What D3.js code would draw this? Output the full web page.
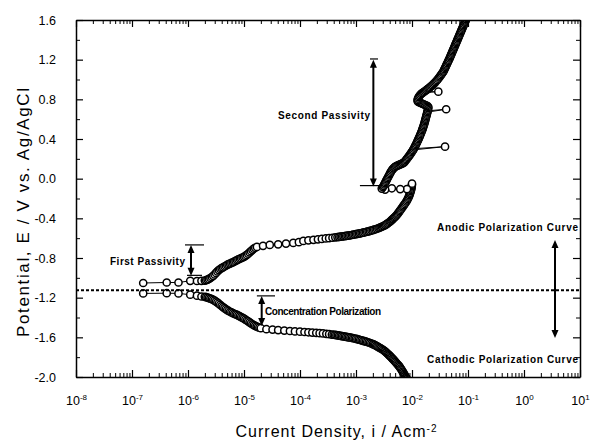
<!DOCTYPE html>
<html>
<head>
<meta charset="utf-8">
<script src="https://cdn.jsdelivr.net/npm/d3@7"></script>
<style>
    body { margin: 0; background: #fff; }
    svg { display: block; }
    text { font-family: "Liberation Sans", Arial, sans-serif; fill: #000; }
</style>
</head>
<body>
<svg id="chart"></svg>
<script>
// axis ticks
const xTickExponents = [-8, -7, -6, -5, -4, -3, -2, -1, 0, 1];
const yTickValues = [-2.0, -1.6, -1.2, -0.8, -0.4, 0.0, 0.4, 0.8, 1.2, 1.6];
const yMinorValues = [-1.8, -1.4, -1.0, -0.6, -0.2, 0.2, 0.6, 1.0, 1.4];

// corrosion potential (dotted line)
const eCorr = -1.125;

// [log10(i / A cm^-2), E / V]
const anodicPoints = [
    // near Ecorr
    [-6.80, -1.052], [-6.38, -1.047], [-6.17, -1.047], [-5.96, -1.030], [-5.84, -1.032],
    [-5.76, -1.030],
    // first passivity rise
    [-5.700, -1.028], [-5.675, -1.024], [-5.650, -1.018], [-5.625, -1.011], [-5.600, -1.002],
    [-5.575, -0.992], [-5.550, -0.980], [-5.525, -0.966], [-5.500, -0.950], [-5.475, -0.935],
    [-5.450, -0.922], [-5.425, -0.911], [-5.400, -0.902], [-5.375, -0.894], [-5.350, -0.886],
    [-5.325, -0.878], [-5.300, -0.869], [-5.275, -0.862], [-5.250, -0.856], [-5.225, -0.850],
    [-5.200, -0.844], [-5.175, -0.837], [-5.150, -0.829], [-5.125, -0.821], [-5.100, -0.814],
    [-5.075, -0.808], [-5.050, -0.802], [-5.025, -0.795], [-5.000, -0.788], [-4.975, -0.779],
    [-4.950, -0.769], [-4.925, -0.757], [-4.900, -0.744], [-4.875, -0.731], [-4.850, -0.718],
    [-4.825, -0.706], [-4.800, -0.697],
    // slow rise
    [-4.77, -0.688], [-4.66, -0.677], [-4.54, -0.668], [-4.39, -0.662], [-4.25, -0.655],
    [-4.12, -0.648], [-4.02, -0.640], [-3.94, -0.628], [-3.85, -0.622], [-3.76, -0.617],
    [-3.68, -0.612], [-3.61, -0.608], [-3.54, -0.603], [-3.48, -0.600], [-3.42, -0.596],
    [-3.37, -0.592], [-3.33, -0.589],
    // active dissolution
    [-3.300, -0.587], [-3.275, -0.585], [-3.250, -0.583], [-3.225, -0.581], [-3.200, -0.579],
    [-3.175, -0.577], [-3.150, -0.575], [-3.125, -0.573], [-3.100, -0.571], [-3.075, -0.568],
    [-3.050, -0.565], [-3.025, -0.563], [-3.000, -0.560], [-2.975, -0.557], [-2.950, -0.554],
    [-2.925, -0.551], [-2.900, -0.548], [-2.875, -0.545], [-2.850, -0.542], [-2.825, -0.538],
    [-2.800, -0.535], [-2.775, -0.531], [-2.750, -0.527], [-2.725, -0.523], [-2.700, -0.519],
    [-2.675, -0.514], [-2.650, -0.510], [-2.625, -0.505], [-2.600, -0.500], [-2.580, -0.495],
    [-2.560, -0.490], [-2.540, -0.485], [-2.520, -0.480], [-2.500, -0.475], [-2.480, -0.468],
    [-2.460, -0.461], [-2.440, -0.453], [-2.420, -0.445], [-2.400, -0.437], [-2.385, -0.429],
    [-2.370, -0.421], [-2.355, -0.413], [-2.340, -0.405], [-2.325, -0.397], [-2.310, -0.389],
    [-2.295, -0.381], [-2.280, -0.371], [-2.265, -0.361], [-2.250, -0.350], [-2.235, -0.339],
    [-2.220, -0.327], [-2.205, -0.315], [-2.190, -0.303], [-2.175, -0.291], [-2.160, -0.279],
    [-2.145, -0.267], [-2.130, -0.255], [-2.115, -0.243], [-2.100, -0.230], [-2.088, -0.218],
    [-2.076, -0.205], [-2.065, -0.192], [-2.055, -0.179], [-2.046, -0.166], [-2.038, -0.153],
    [-2.030, -0.140], [-2.023, -0.127], [-2.017, -0.114], [-2.012, -0.101], [-2.008, -0.088],
    [-2.004, -0.075], [-2.001, -0.062], [-2.000, -0.050],
    // current drop
    [-2.09, -0.105], [-2.21, -0.105], [-2.36, -0.097], [-2.48, -0.110], [-2.54, -0.100],
    // second passivity
    [-2.520, -0.085], [-2.508, -0.072], [-2.496, -0.059], [-2.484, -0.046], [-2.472, -0.033],
    [-2.460, -0.020], [-2.448, -0.007], [-2.436, 0.006], [-2.424, 0.019], [-2.412, 0.032],
    [-2.400, 0.045], [-2.388, 0.058], [-2.376, 0.070], [-2.362, 0.082], [-2.348, 0.093],
    [-2.332, 0.104], [-2.316, 0.113], [-2.300, 0.120], [-2.280, 0.126], [-2.260, 0.131],
    [-2.240, 0.136], [-2.220, 0.141], [-2.200, 0.146], [-2.180, 0.151], [-2.160, 0.157],
    [-2.140, 0.165], [-2.125, 0.175], [-2.110, 0.186], [-2.095, 0.197], [-2.080, 0.208],
    [-2.065, 0.219], [-2.050, 0.231], [-2.035, 0.243], [-2.020, 0.255], [-2.005, 0.267],
    [-1.992, 0.279], [-1.980, 0.290], [-1.41, 0.323], [-1.968, 0.302], [-1.957, 0.314],
    [-1.946, 0.326], [-1.935, 0.338], [-1.925, 0.350], [-1.915, 0.362], [-1.905, 0.374],
    [-1.895, 0.386], [-1.885, 0.398], [-1.875, 0.411], [-1.865, 0.424], [-1.855, 0.437],
    [-1.846, 0.450], [-1.837, 0.463], [-1.828, 0.476], [-1.819, 0.489], [-1.811, 0.502],
    [-1.803, 0.515], [-1.795, 0.528], [-1.788, 0.541], [-1.781, 0.554], [-1.774, 0.567],
    [-1.768, 0.580], [-1.762, 0.593], [-1.756, 0.606], [-1.750, 0.619], [-1.744, 0.632],
    [-1.738, 0.645], [-1.732, 0.658], [-1.726, 0.671], [-1.39, 0.700], [-1.720, 0.684],
    [-1.715, 0.697], [-1.711, 0.710], [-1.708, 0.723], [-1.725, 0.732], [-1.745, 0.738],
    [-1.765, 0.743], [-1.785, 0.748], [-1.805, 0.753], [-1.825, 0.758], [-1.845, 0.763],
    [-1.865, 0.768], [-1.885, 0.774], [-1.900, 0.782], [-1.900, 0.795], [-1.893, 0.808],
    [-1.883, 0.821], [-1.870, 0.833], [-1.855, 0.844], [-1.838, 0.854], [-1.820, 0.862],
    [-1.802, 0.869], [-1.53, 0.877], [-1.785, 0.876], [-1.766, 0.884], [-1.747, 0.892],
    [-1.728, 0.900], [-1.709, 0.908], [-1.690, 0.916], [-1.672, 0.925], [-1.654, 0.934],
    [-1.636, 0.943], [-1.618, 0.953], [-1.600, 0.963], [-1.583, 0.974], [-1.566, 0.985],
    [-1.549, 0.996], [-1.532, 1.008], [-1.516, 1.020], [-1.500, 1.032], [-1.484, 1.044],
    [-1.469, 1.056], [-1.454, 1.068], [-1.440, 1.080], [-1.430, 1.092], [-1.420, 1.104],
    [-1.410, 1.116], [-1.400, 1.128], [-1.390, 1.140], [-1.380, 1.152], [-1.370, 1.164],
    [-1.360, 1.176], [-1.350, 1.188], [-1.340, 1.200], [-1.330, 1.212], [-1.321, 1.224],
    [-1.312, 1.236], [-1.303, 1.248], [-1.294, 1.260], [-1.285, 1.272], [-1.276, 1.284],
    [-1.267, 1.296], [-1.258, 1.308], [-1.249, 1.320], [-1.240, 1.332], [-1.231, 1.344],
    [-1.222, 1.356], [-1.213, 1.368], [-1.204, 1.380], [-1.195, 1.392], [-1.186, 1.404],
    [-1.177, 1.416], [-1.168, 1.428], [-1.159, 1.440], [-1.150, 1.452], [-1.141, 1.464],
    [-1.132, 1.476], [-1.123, 1.488], [-1.114, 1.500], [-1.105, 1.512], [-1.096, 1.524],
    [-1.087, 1.536], [-1.078, 1.548], [-1.069, 1.560], [-1.060, 1.572], [-1.051, 1.584],
    [-1.042, 1.596], [-1.033, 1.608], [-1.024, 1.620]
];

const cathodicPoints = [
    // near Ecorr
    [-6.80, -1.157], [-6.38, -1.155], [-6.17, -1.157], [-5.96, -1.170], [-5.84, -1.180],
    [-5.76, -1.188],
    // descent
    [-5.700, -1.192], [-5.675, -1.195], [-5.650, -1.199], [-5.625, -1.204], [-5.600, -1.209],
    [-5.575, -1.215], [-5.550, -1.222], [-5.525, -1.230], [-5.500, -1.240], [-5.475, -1.250],
    [-5.450, -1.261], [-5.425, -1.273], [-5.400, -1.284], [-5.375, -1.295], [-5.350, -1.306],
    [-5.325, -1.316], [-5.300, -1.325], [-5.275, -1.334], [-5.250, -1.342], [-5.225, -1.349],
    [-5.200, -1.356], [-5.175, -1.362], [-5.150, -1.368], [-5.125, -1.374], [-5.100, -1.381],
    [-5.075, -1.388], [-5.050, -1.396], [-5.025, -1.404], [-5.000, -1.412], [-4.975, -1.421],
    [-4.950, -1.430], [-4.925, -1.439], [-4.900, -1.449], [-4.875, -1.459], [-4.850, -1.468],
    [-4.825, -1.477], [-4.800, -1.485], [-4.775, -1.492], [-4.750, -1.498], [-4.725, -1.503],
    [-4.700, -1.508],
    // limiting current
    [-4.60, -1.518], [-4.49, -1.522], [-4.39, -1.527], [-4.28, -1.532], [-4.18, -1.536],
    [-4.09, -1.540], [-4.00, -1.543], [-3.92, -1.546], [-3.85, -1.549], [-3.78, -1.552],
    [-3.71, -1.555], [-3.65, -1.558], [-3.59, -1.561], [-3.53, -1.565], [-3.48, -1.568],
    [-3.43, -1.572],
    // hydrogen evolution
    [-3.400, -1.574], [-3.375, -1.576], [-3.350, -1.578], [-3.325, -1.580], [-3.300, -1.582],
    [-3.275, -1.585], [-3.250, -1.588], [-3.225, -1.590], [-3.200, -1.593], [-3.175, -1.595],
    [-3.150, -1.598], [-3.125, -1.600], [-3.100, -1.603], [-3.075, -1.606], [-3.050, -1.609],
    [-3.025, -1.612], [-3.000, -1.616], [-2.975, -1.619], [-2.950, -1.623], [-2.925, -1.627],
    [-2.900, -1.631], [-2.875, -1.635], [-2.850, -1.639], [-2.825, -1.643], [-2.800, -1.647],
    [-2.775, -1.652], [-2.750, -1.657], [-2.725, -1.662], [-2.700, -1.668], [-2.680, -1.673],
    [-2.660, -1.679], [-2.640, -1.685], [-2.620, -1.691], [-2.600, -1.698], [-2.580, -1.705],
    [-2.560, -1.711], [-2.540, -1.718], [-2.520, -1.725], [-2.500, -1.733], [-2.485, -1.740],
    [-2.470, -1.748], [-2.455, -1.755], [-2.440, -1.763], [-2.425, -1.771], [-2.410, -1.779],
    [-2.395, -1.787], [-2.380, -1.796], [-2.365, -1.805], [-2.350, -1.814], [-2.335, -1.823],
    [-2.320, -1.832], [-2.305, -1.841], [-2.290, -1.851], [-2.275, -1.861], [-2.260, -1.871],
    [-2.245, -1.881], [-2.230, -1.891], [-2.217, -1.901], [-2.204, -1.912], [-2.191, -1.923],
    [-2.179, -1.934], [-2.167, -1.945], [-2.155, -1.956], [-2.144, -1.967], [-2.133, -1.978],
    [-2.122, -1.989], [-2.112, -2.000], [-2.102, -2.011], [-2.092, -2.022], [-2.083, -2.033],
    [-2.074, -2.044], [-2.066, -2.055], [-2.058, -2.066]
];

// annotations (in data units)
const arrows = [
    { logI: -2.69, top: 1.20, bottom: -0.08 },
    { logI: -5.946, top: -0.668, bottom: -0.98 },
    { logI: -4.684, top: -1.182, bottom: -1.485 },
    { logI: 0.554, top: -0.618, bottom: -1.606 }
];
const caps = [
    { from: -2.75, to: -2.607, e: 1.207 },
    { from: -2.93, to: -2.52, e: -0.07 },
    { from: -6.054, to: -5.714, e: -0.668 },
    { from: -6.018, to: -5.75, e: -0.975 },
    { from: -4.77, to: -4.446, e: -1.182 }
];
const notes = [
    { text: "Second Passivity", logI: -2.75, e: 0.632, anchor: "end", len: 92 },
    { text: "First Passivity", logI: -6.054, e: -0.836, anchor: "end", len: 75 },
    { text: "Concentration Polarization", logI: -4.625, e: -1.343, anchor: "start", len: 116 },
    { text: "Anodic Polarization Curve", logI: 0.964, e: -0.497, anchor: "end", len: 141 },
    { text: "Cathodic Polarization Curve", logI: 0.964, e: -1.827, anchor: "end", len: 151 }
];

const width = 596, height = 443;
const margin = { top: 20, right: 16, bottom: 66, left: 76 };
const plotW = width - margin.left - margin.right;
const plotH = height - margin.top - margin.bottom;

const svg = d3.select("#chart").attr("width", width).attr("height", height);

const x = d3.scaleLog().domain([1e-8, 1e1]).range([margin.left, margin.left + plotW]);
const y = d3.scaleLinear().domain([-2.0, 1.6]).range([margin.top + plotH, margin.top]);

const xMajor = xTickExponents.map(e => Math.pow(10, e));
const xMinor = [];
xTickExponents.slice(0, -1).forEach(e => {
    for (let m = 2; m <= 9; m++) xMinor.push(m * Math.pow(10, e));
});

// clip for the data
svg.append("clipPath").attr("id", "plotclip")
    .append("rect")
    .attr("x", margin.left).attr("y", margin.top)
    .attr("width", plotW).attr("height", plotH);

// data series
const line = d3.line()
    .x(d => x(Math.pow(10, d[0])))
    .y(d => y(d[1]));

const dataG = svg.append("g").attr("clip-path", "url(#plotclip)");

[anodicPoints, cathodicPoints].forEach(series => {
    dataG.append("path")
        .datum(series)
        .attr("d", line)
        .attr("fill", "none")
        .attr("stroke", "#000")
        .attr("stroke-width", 1);

    dataG.append("g")
        .selectAll("circle")
        .data(series)
        .join("circle")
        .attr("cx", d => x(Math.pow(10, d[0])))
        .attr("cy", d => y(d[1]))
        .attr("r", 3.6)
        .attr("fill", "#fff")
        .attr("stroke", "#000")
        .attr("stroke-width", 1.5);
});

// dotted corrosion potential line, drawn over the circles
svg.append("line")
    .attr("x1", x(1e-8)).attr("x2", x(1e1))
    .attr("y1", y(eCorr)).attr("y2", y(eCorr))
    .attr("stroke", "#000")
    .attr("stroke-width", 2)
    .attr("stroke-dasharray", "3,2");

// axes, ticks pointing inward on all four sides
function styleAxis(g) {
    g.selectAll(".domain").attr("stroke-width", 1.5);
    g.selectAll(".tick line").attr("stroke-width", 1.2);
}
function minorAxis(g) {
    g.select(".domain").remove();
    g.selectAll(".tick line").attr("stroke-width", 1);
}

svg.append("g")
    .attr("transform", "translate(0," + y(-2.0) + ")")
    .call(d3.axisBottom(x).tickValues(xMajor).tickSize(-7).tickSizeOuter(0).tickPadding(19))
    .call(styleAxis)
    .call(g => {
        const t = g.selectAll(".tick text").text(null)
            .attr("font-size", "12.5px")
            .attr("font-family", "Liberation Sans, Arial, sans-serif");
        t.append("tspan").text("10");
        t.append("tspan")
            .attr("dy", "-0.55em")
            .attr("font-size", "8px")
            .text(d => String(Math.round(Math.log10(d))));
    });
svg.append("g")
    .attr("transform", "translate(0," + y(-2.0) + ")")
    .call(d3.axisBottom(x).tickValues(xMinor).tickSize(-4).tickFormat(""))
    .call(minorAxis);

svg.append("g")
    .attr("transform", "translate(0," + y(1.6) + ")")
    .call(d3.axisTop(x).tickValues(xMajor).tickSize(-7).tickSizeOuter(0).tickFormat(""))
    .call(styleAxis);
svg.append("g")
    .attr("transform", "translate(0," + y(1.6) + ")")
    .call(d3.axisTop(x).tickValues(xMinor).tickSize(-4).tickFormat(""))
    .call(minorAxis);

svg.append("g")
    .attr("transform", "translate(" + x(1e-8) + ",0)")
    .call(d3.axisLeft(y).tickValues(yTickValues).tickSize(-7).tickSizeOuter(0).tickPadding(20)
        .tickFormat(d => d.toFixed(1)))
    .call(styleAxis)
    .call(g => g.selectAll(".tick text")
        .attr("font-size", "12.5px")
        .attr("font-family", "Liberation Sans, Arial, sans-serif"));
svg.append("g")
    .attr("transform", "translate(" + x(1e-8) + ",0)")
    .call(d3.axisLeft(y).tickValues(yMinorValues).tickSize(-4).tickFormat(""))
    .call(minorAxis);

svg.append("g")
    .attr("transform", "translate(" + x(1e1) + ",0)")
    .call(d3.axisRight(y).tickValues(yTickValues).tickSize(-7).tickSizeOuter(0).tickFormat(""))
    .call(styleAxis);
svg.append("g")
    .attr("transform", "translate(" + x(1e1) + ",0)")
    .call(d3.axisRight(y).tickValues(yMinorValues).tickSize(-4).tickFormat(""))
    .call(minorAxis);

// axis titles
const xTitle = svg.append("text")
    .attr("x", 336)
    .attr("y", 437)
    .attr("text-anchor", "middle")
    .attr("font-size", "16px")
    .attr("textLength", 201)
    .attr("lengthAdjust", "spacing");
xTitle.append("tspan").text("Current Density, i / Acm");
xTitle.append("tspan").attr("dy", "-0.55em").attr("font-size", "10px").text("-2");

svg.append("text")
    .attr("transform", "translate(29," + ((margin.top + margin.top + plotH) / 2 + 14) + ") rotate(-90)")
    .attr("text-anchor", "middle")
    .attr("font-size", "17px")
    .attr("textLength", 249)
    .attr("lengthAdjust", "spacing")
    .text("Potential, E / V vs. Ag/AgCl");

// annotation arrows
const ann = svg.append("g");
arrows.forEach(a => {
    const px = x(Math.pow(10, a.logI));
    const y1 = y(a.top), y2 = y(a.bottom);
    const h = 8, w = 3.5;
    ann.append("line")
        .attr("x1", px).attr("x2", px)
        .attr("y1", y1 + h - 1).attr("y2", y2 - h + 1)
        .attr("stroke", "#000").attr("stroke-width", 2);
    ann.append("path")
        .attr("d", "M" + px + "," + y1 + "L" + (px - w) + "," + (y1 + h) + "L" + (px + w) + "," + (y1 + h) + "Z")
        .attr("fill", "#000");
    ann.append("path")
        .attr("d", "M" + px + "," + y2 + "L" + (px - w) + "," + (y2 - h) + "L" + (px + w) + "," + (y2 - h) + "Z")
        .attr("fill", "#000");
});
caps.forEach(c => {
    ann.append("line")
        .attr("x1", x(Math.pow(10, c.from))).attr("x2", x(Math.pow(10, c.to)))
        .attr("y1", y(c.e)).attr("y2", y(c.e))
        .attr("stroke", "#000").attr("stroke-width", 1.2);
});
notes.forEach(n => {
    ann.append("text")
        .attr("x", x(Math.pow(10, n.logI)))
        .attr("y", y(n.e))
        .attr("dy", "0.35em")
        .attr("text-anchor", n.anchor)
        .attr("font-size", "10px")
        .attr("font-weight", "bold")
        .attr("textLength", n.len)
        .attr("lengthAdjust", "spacing")
        .text(n.text);
});
</script>
</body>
</html>
